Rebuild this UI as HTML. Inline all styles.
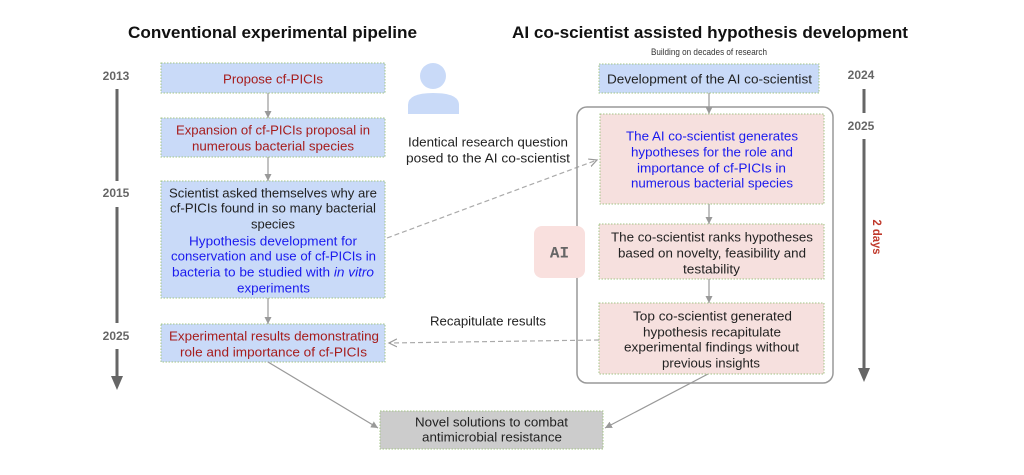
<!DOCTYPE html>
<html><head><meta charset="utf-8"><style>
html,body{margin:0;padding:0;background:#fff;}
svg{display:block;}
text{font-family:"Liberation Sans",Arial,sans-serif;}
text.mono{font-family:"Liberation Mono","DejaVu Sans Mono",monospace;}
</style></head><body>
<svg width="1024" height="475" viewBox="0 0 1024 475" xmlns="http://www.w3.org/2000/svg">
<defs>
<marker id="ah" markerWidth="8" markerHeight="8" refX="7" refY="4" orient="auto" markerUnits="userSpaceOnUse">
<path d="M0,0.5 L7,4 L0,7.5 Z" fill="#999"/>
</marker>
<marker id="ahd" markerWidth="10" markerHeight="10" refX="8" refY="5" orient="auto" markerUnits="userSpaceOnUse">
<path d="M0,1 L8,5 L0,9" fill="none" stroke="#999" stroke-width="1.2"/>
</marker>
</defs>

<!-- Titles -->
<text x="128" y="38" font-size="17" font-weight="bold" fill="#111" textLength="289" lengthAdjust="spacingAndGlyphs">Conventional experimental pipeline</text>
<text x="512" y="38" font-size="17" font-weight="bold" fill="#111" textLength="396" lengthAdjust="spacingAndGlyphs">AI co-scientist assisted hypothesis development</text>
<text x="709" y="55" font-size="9.5" fill="#333" text-anchor="middle" textLength="116" lengthAdjust="spacingAndGlyphs">Building on decades of research</text>

<!-- Timelines -->
<g fill="#666" font-size="12" font-weight="bold">
<text x="116" y="80" text-anchor="middle">2013</text>
<text x="116" y="197" text-anchor="middle">2015</text>
<text x="116" y="340" text-anchor="middle">2025</text>
<text x="861" y="79" text-anchor="middle">2024</text>
<text x="861" y="130" text-anchor="middle">2025</text>
</g>
<g stroke="#666" stroke-width="3">
<line x1="117" y1="89" x2="117" y2="181"/>
<line x1="117" y1="207" x2="117" y2="323"/>
<line x1="117" y1="349" x2="117" y2="378"/>
<line x1="864" y1="89" x2="864" y2="113"/>
<line x1="864" y1="139" x2="864" y2="370"/>
</g>
<path d="M111,376 L123,376 L117,390 Z" fill="#666"/>
<path d="M858,368 L870,368 L864,382 Z" fill="#666"/>
<text transform="translate(873,237) rotate(90)" x="0" y="0" font-size="12" font-weight="bold" fill="#c0392b" text-anchor="middle" textLength="35" lengthAdjust="spacingAndGlyphs">2 days</text>

<!-- Left boxes -->
<g fill="#c9daf8" stroke="#a3c586" stroke-width="1" stroke-dasharray="1.5 1.5">
<rect x="161" y="63" width="224" height="30"/>
<rect x="161" y="118" width="224" height="39"/>
<rect x="161" y="181" width="224" height="117"/>
<rect x="161" y="324" width="224" height="38"/>
</g>
<g font-size="13" text-anchor="start">
<text x="223" y="83.5" fill="#a61c1c" textLength="100" lengthAdjust="spacingAndGlyphs">Propose cf-PICIs</text>
<text x="176" y="134.5" fill="#a61c1c" textLength="194" lengthAdjust="spacingAndGlyphs">Expansion of cf-PICIs proposal in</text>
<text x="192" y="150.5" fill="#a61c1c" textLength="162" lengthAdjust="spacingAndGlyphs">numerous bacterial species</text>
<text x="169" y="197.5" fill="#222" textLength="208" lengthAdjust="spacingAndGlyphs">Scientist asked themselves why are</text>
<text x="170" y="212.5" fill="#222" textLength="206" lengthAdjust="spacingAndGlyphs">cf-PICIs found in so many bacterial</text>
<text x="251" y="228.5" fill="#222" textLength="44" lengthAdjust="spacingAndGlyphs">species</text>
<text x="189" y="245.5" fill="#1a1aee" textLength="168" lengthAdjust="spacingAndGlyphs">Hypothesis development for</text>
<text x="171" y="260.5" fill="#1a1aee" textLength="205" lengthAdjust="spacingAndGlyphs">conservation and use of cf-PICIs in</text>
<text x="172" y="276.5" fill="#1a1aee" textLength="202" lengthAdjust="spacingAndGlyphs">bacteria to be studied with <tspan font-style="italic">in vitro</tspan></text>
<text x="237" y="292.5" fill="#1a1aee" textLength="73" lengthAdjust="spacingAndGlyphs">experiments</text>
<text x="169" y="340.5" fill="#a61c1c" textLength="210" lengthAdjust="spacingAndGlyphs">Experimental results demonstrating</text>
<text x="180" y="356.5" fill="#a61c1c" textLength="187" lengthAdjust="spacingAndGlyphs">role and importance of cf-PICIs</text>
</g>
<g stroke="#999" stroke-width="1.2" marker-end="url(#ah)">
<line x1="268" y1="93" x2="268" y2="118"/>
<line x1="268" y1="157" x2="268" y2="181"/>
<line x1="268" y1="298" x2="268" y2="324"/>
<line x1="709" y1="93" x2="709" y2="114"/>
<line x1="709" y1="204" x2="709" y2="224"/>
<line x1="709" y1="279" x2="709" y2="303"/>
<line x1="268" y1="362" x2="378" y2="428"/>
<line x1="708" y1="374" x2="605" y2="428"/>
</g>

<!-- Person icon -->
<circle cx="433" cy="76" r="13" fill="#c9daf8"/>
<path d="M408,114 L408,105 Q408,93 433,93 Q459,93 459,105 L459,114 Z" fill="#c9daf8"/>
<text x="408" y="146.5" font-size="13" fill="#222" textLength="160" lengthAdjust="spacingAndGlyphs">Identical research question</text>
<text x="406" y="162.5" font-size="13" fill="#222" textLength="164" lengthAdjust="spacingAndGlyphs">posed to the AI co-scientist</text>
<text x="430" y="325.5" font-size="13" fill="#222" textLength="116" lengthAdjust="spacingAndGlyphs">Recapitulate results</text>

<!-- Dashed arrows -->
<g stroke="#aaa" stroke-width="1.2" stroke-dasharray="5 3" fill="none">
<line x1="387" y1="238" x2="597" y2="160" marker-end="url(#ahd)"/>
<line x1="599" y1="340" x2="389" y2="343" marker-end="url(#ahd)"/>
</g>

<!-- Right side -->
<rect x="599" y="64" width="220" height="29" fill="#c9daf8" stroke="#a3c586" stroke-width="1" stroke-dasharray="1.5 1.5"/>
<text x="607" y="83.5" font-size="13" fill="#222" textLength="205" lengthAdjust="spacingAndGlyphs">Development of the AI co-scientist</text>

<rect x="577" y="107" width="256" height="276" rx="10" fill="none" stroke="#999" stroke-width="1.5"/>

<g fill="#f6e0de" stroke="#a3c586" stroke-width="1" stroke-dasharray="1.5 1.5">
<rect x="600" y="114" width="224" height="90"/>
<rect x="599" y="224" width="225" height="55"/>
<rect x="599" y="303" width="225" height="71"/>
</g>
<g font-size="13">
<text x="626" y="140.5" fill="#1a1aee" textLength="172" lengthAdjust="spacingAndGlyphs">The AI co-scientist generates</text>
<text x="631" y="156.5" fill="#1a1aee" textLength="162" lengthAdjust="spacingAndGlyphs">hypotheses for the role and</text>
<text x="637" y="172.5" fill="#1a1aee" textLength="149" lengthAdjust="spacingAndGlyphs">importance of cf-PICIs in</text>
<text x="631" y="187.5" fill="#1a1aee" textLength="162" lengthAdjust="spacingAndGlyphs">numerous bacterial species</text>
<text x="611" y="241.5" fill="#222" textLength="202" lengthAdjust="spacingAndGlyphs">The co-scientist ranks hypotheses</text>
<text x="618" y="257.5" fill="#222" textLength="188" lengthAdjust="spacingAndGlyphs">based on novelty, feasibility and</text>
<text x="683" y="273.5" fill="#222" textLength="57" lengthAdjust="spacingAndGlyphs">testability</text>
<text x="633" y="320.5" fill="#222" textLength="159" lengthAdjust="spacingAndGlyphs">Top co-scientist generated</text>
<text x="643" y="336.5" fill="#222" textLength="138" lengthAdjust="spacingAndGlyphs">hypothesis recapitulate</text>
<text x="624" y="351.5" fill="#222" textLength="175" lengthAdjust="spacingAndGlyphs">experimental findings without</text>
<text x="662" y="367.5" fill="#222" textLength="98" lengthAdjust="spacingAndGlyphs">previous insights</text>
</g>

<!-- AI badge -->
<rect x="534" y="226" width="51" height="52" rx="8" fill="#f9e0de"/>
<text class="mono" x="559.5" y="257.5" font-size="16" font-weight="bold" fill="#666" text-anchor="middle">AI</text>

<!-- Final box -->
<rect x="380" y="411" width="223" height="38" fill="#cccccc" stroke="#a3c586" stroke-width="1" stroke-dasharray="1.5 1.5"/>
<text x="415" y="426.5" font-size="13" fill="#222" textLength="153" lengthAdjust="spacingAndGlyphs">Novel solutions to combat</text>
<text x="422" y="441.5" font-size="13" fill="#222" textLength="140" lengthAdjust="spacingAndGlyphs">antimicrobial resistance</text>
</svg>
</body></html>
